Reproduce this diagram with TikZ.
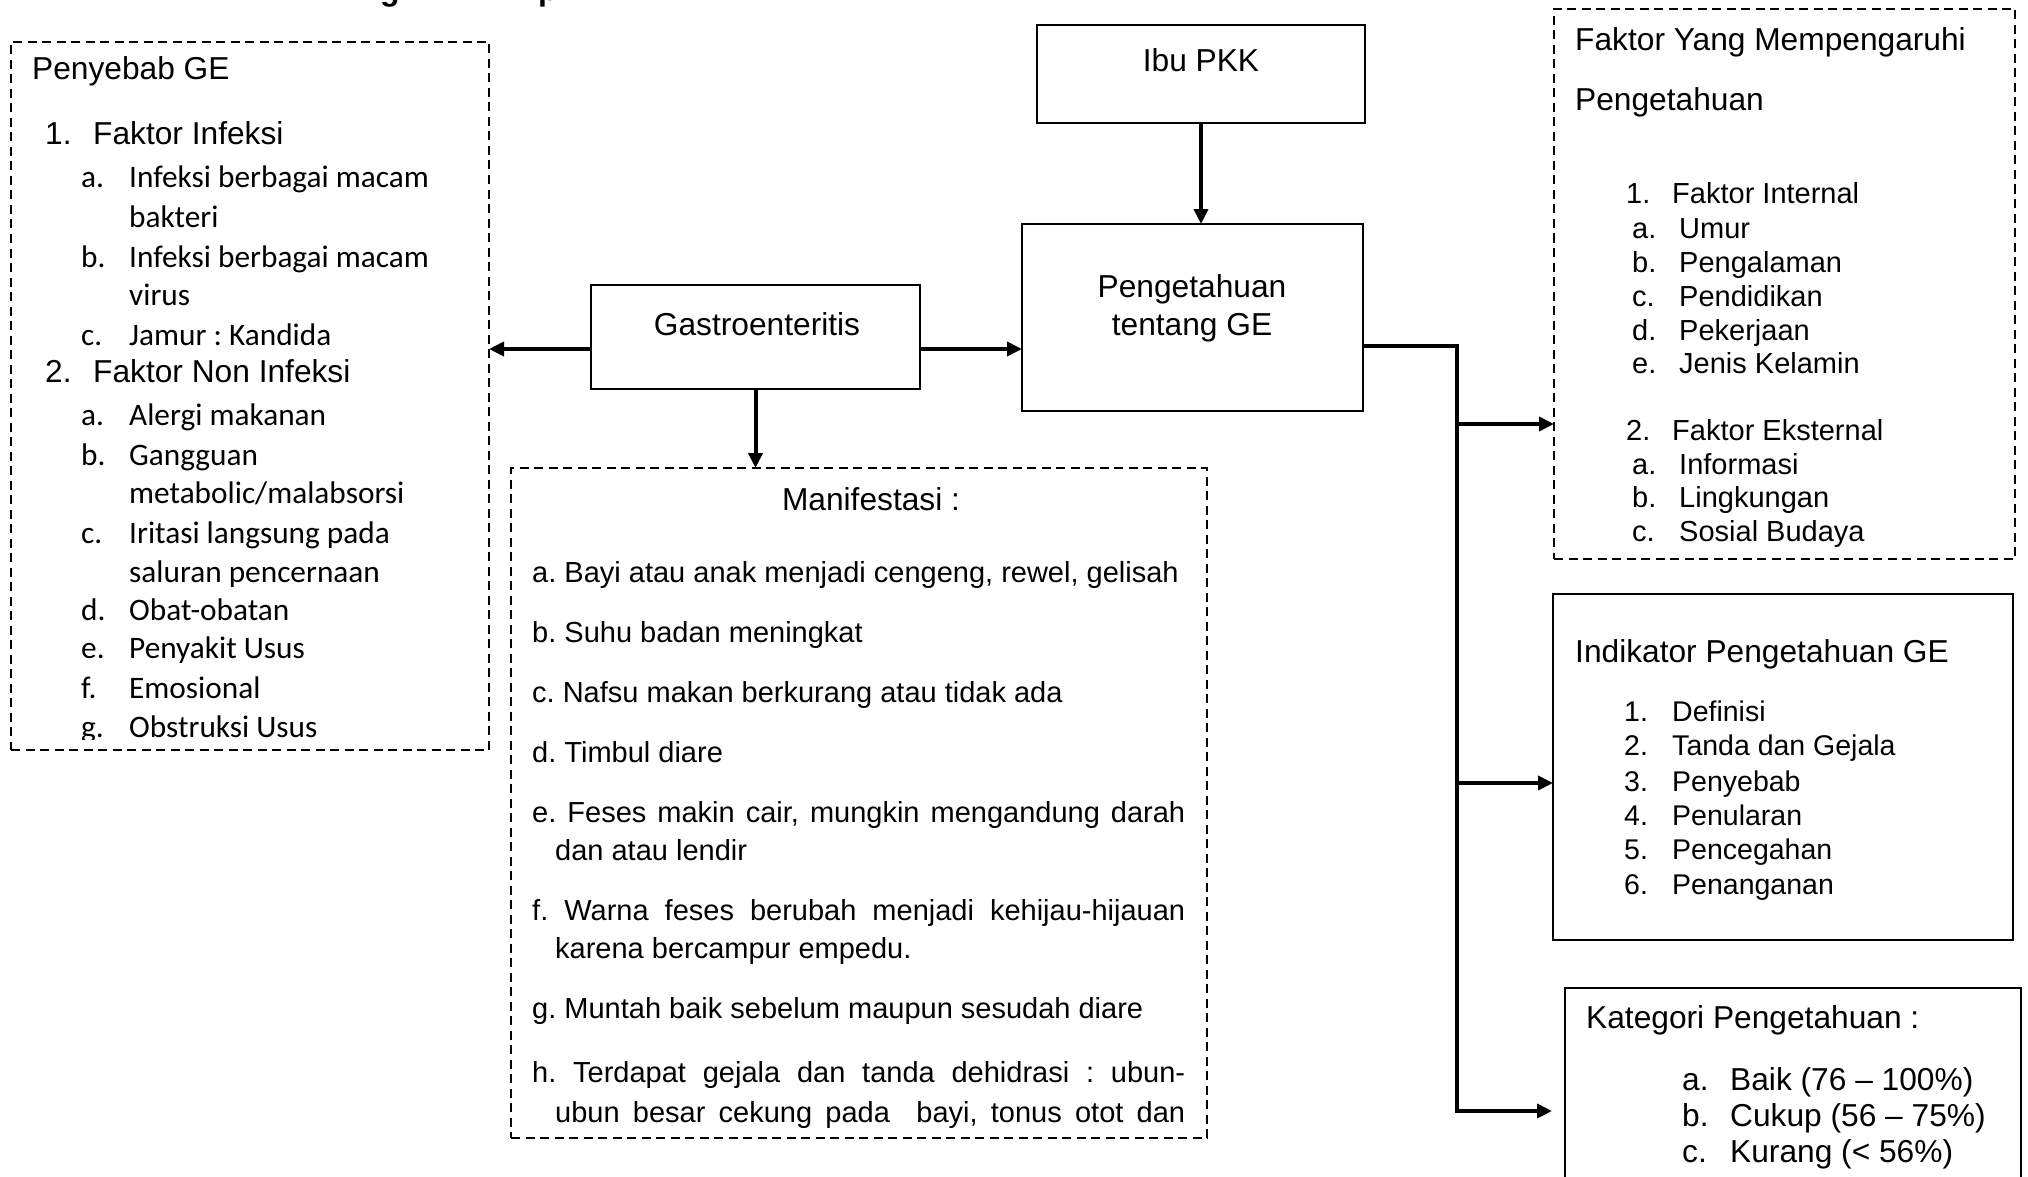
\documentclass[tikz,border=0pt]{standalone}
\usepackage{fontspec}
\setmainfont{Liberation Sans}
\newfontfamily\calfont{Carlito}
\usetikzlibrary{arrows.meta}
\frenchspacing
\newcommand\szA{\fontsize{31.7}{38}\selectfont}
\newcommand\szB{\fontsize{29}{34}\selectfont}
\newcommand\szC{\calfont\fontsize{31.3}{38}\selectfont}
\newcommand\szD{\fontsize{28.5}{34}\selectfont}
\begin{document}
\begin{tikzpicture}[x=1pt,y=-1pt,
  solidbox/.style={draw=black,line width=2.5pt,inner sep=0pt,outer sep=0pt,anchor=north west},
  dashbox/.style={draw=black,line width=2.8pt,dash pattern=on 9pt off 5.5pt,inner sep=0pt,outer sep=0pt,anchor=north west},
  conn/.style={line width=4pt,line join=miter},
  arr/.style={conn,-{Triangle[length=15pt,width=14pt]}},
  tx/.style={inner sep=0pt,anchor=base west},
  tc/.style={inner sep=0pt,anchor=base}]
\useasboundingbox (0,0) rectangle (2028,1177);
\clip (0,0) rectangle (2028,1177);
\fill[white] (0,0) rectangle (2028,1177);

% clipped fragments of a heading at the top edge
\begin{scope}
\clip (0,0) rectangle (2028,9);
\node[tx,font=\bfseries\fontsize{32}{38}\selectfont] (fragg) at (380,1) {g};
\node[tx,font=\bfseries\fontsize{32}{38}\selectfont] (fragp) at (538,1) {p};
\end{scope}

% boxes
\node[dashbox,minimum width=478pt,minimum height=708pt] (pen) at (11,42) {};
\node[solidbox,minimum width=328pt,minimum height=98pt] (ibu) at (1037,25) {};
\node[solidbox,minimum width=329pt,minimum height=104pt] (gas) at (591,285) {};
\node[solidbox,minimum width=341pt,minimum height=187pt] (peng) at (1022,224) {};
\node[dashbox,minimum width=696pt,minimum height=670pt] (man) at (511,468) {};
\node[dashbox,minimum width=461pt,minimum height=550pt] (fak) at (1554,9) {};
\node[solidbox,minimum width=460pt,minimum height=346pt] (ind) at (1553,594) {};
\node[solidbox,minimum width=456pt,minimum height=230pt] (kat) at (1565,988) {};

% box texts
\node[tc,font=\szA] (tibu) at (1201,72) {Ibu PKK};
\node[tc,font=\szA] (tgas) at (757,335) {Gastroenteritis};
\node[tc,font=\szA] (tpeng1) at (1192,297) {Pengetahuan};
\node[tc,font=\szA] (tpeng2) at (1192,335) {tentang GE};

% Penyebab GE
\node[tx,font=\szA] (p0) at (32,80) {Penyebab GE};
\node[tx,font=\szA] (p1n) at (45,145) {1.};
\node[tx,font=\szA] (p1) at (93,145) {Faktor Infeksi};
\node[tx,font=\szC] (p1an) at (81,188) {a.};
\node[tx,font=\szC] (p1a) at (129,188) {Infeksi berbagai macam};
\node[tx,font=\szC] (p1a2) at (129,227) {bakteri};
\node[tx,font=\szC] (p1bn) at (81,267) {b.};
\node[tx,font=\szC] (p1b) at (129,267) {Infeksi berbagai macam};
\node[tx,font=\szC] (p1b2) at (129,305) {virus};
\node[tx,font=\szC] (p1cn) at (81,345) {c.};
\node[tx,font=\szC] (p1c) at (129,345) {Jamur : Kandida};
\node[tx,font=\szA] (p2n) at (45,382) {2.};
\node[tx,font=\szA] (p2) at (93,382) {Faktor Non Infeksi};
\node[tx,font=\szC] (p2an) at (81,425) {a.};
\node[tx,font=\szC] (p2a) at (129,425) {Alergi makanan};
\node[tx,font=\szC] (p2bn) at (81,465) {b.};
\node[tx,font=\szC] (p2b) at (129,465) {Gangguan};
\node[tx,font=\szC] (p2b2) at (129,503) {metabolic/malabsorsi};
\node[tx,font=\szC] (p2cn) at (81,543) {c.};
\node[tx,font=\szC] (p2c) at (129,543) {Iritasi langsung pada};
\node[tx,font=\szC] (p2c2) at (129,582) {saluran pencernaan};
\node[tx,font=\szC] (p2dn) at (81,620) {d.};
\node[tx,font=\szC] (p2d) at (129,620) {Obat-obatan};
\node[tx,font=\szC] (p2en) at (81,658) {e.};
\node[tx,font=\szC] (p2e) at (129,658) {Penyakit Usus};
\node[tx,font=\szC] (p2fn) at (81,698) {f.};
\node[tx,font=\szC] (p2f) at (129,698) {Emosional};
\begin{scope}
\clip (0,0) rectangle (2028,739);
\node[tx,font=\szC] (p2gn) at (81,737) {g.};
\node[tx,font=\szC] (p2g) at (129,737) {Obstruksi Usus};
\end{scope}

% Manifestasi
\node[tc,font=\szA] (m0) at (871,510) {Manifestasi :};
\node[tx,font=\szB] (ma) at (532,582) {a. Bayi atau anak menjadi cengeng, rewel, gelisah};
\node[tx,font=\szB] (mb) at (532,642) {b. Suhu badan meningkat};
\node[tx,font=\szB] (mc) at (532,702) {c. Nafsu makan berkurang atau tidak ada};
\node[tx,font=\szB] (md) at (532,762) {d. Timbul diare};
\node[tx,font=\szB] (me) at (532,822) {\makebox[653pt][s]{e. Feses makin cair, mungkin mengandung darah}};
\node[tx,font=\szB] (me2) at (555,860) {dan atau lendir};
\node[tx,font=\szB] (mf) at (532,920) {\makebox[653pt][s]{f. Warna feses berubah menjadi kehijau-hijauan}};
\node[tx,font=\szB] (mf2) at (555,958) {karena bercampur empedu.};
\node[tx,font=\szB] (mg) at (532,1018) {g. Muntah baik sebelum maupun sesudah diare};
\node[tx,font=\szB] (mh) at (532,1082) {\makebox[653pt][s]{h. Terdapat gejala dan tanda dehidrasi : ubun-}};
\begin{scope}
\clip (0,0) rectangle (2028,1128);
\node[tx,font=\szB] (mh2) at (555,1122) {\makebox[630pt][s]{ubun besar cekung pada \ bayi, tonus otot dan}};
\end{scope}

% Faktor yang mempengaruhi
\node[tx,font=\szA] (f0) at (1575,51) {Faktor Yang Mempengaruhi};
\node[tx,font=\szA] (f0b) at (1575,111) {Pengetahuan};
\node[tx,font=\szB] (f1n) at (1626,204) {1.};
\node[tx,font=\szB] (f1) at (1672,204) {Faktor Internal};
\node[tx,font=\szB] (f1an) at (1632,238) {a.};
\node[tx,font=\szB] (f1a) at (1679,238) {Umur};
\node[tx,font=\szB] (f1bn) at (1632,272) {b.};
\node[tx,font=\szB] (f1b) at (1679,272) {Pengalaman};
\node[tx,font=\szB] (f1cn) at (1632,306) {c.};
\node[tx,font=\szB] (f1c) at (1679,306) {Pendidikan};
\node[tx,font=\szB] (f1dn) at (1632,340) {d.};
\node[tx,font=\szB] (f1d) at (1679,340) {Pekerjaan};
\node[tx,font=\szB] (f1en) at (1632,373) {e.};
\node[tx,font=\szB] (f1e) at (1679,373) {Jenis Kelamin};
\node[tx,font=\szB] (f2n) at (1626,440) {2.};
\node[tx,font=\szB] (f2) at (1672,440) {Faktor Eksternal};
\node[tx,font=\szB] (f2an) at (1632,474) {a.};
\node[tx,font=\szB] (f2a) at (1679,474) {Informasi};
\node[tx,font=\szB] (f2bn) at (1632,507) {b.};
\node[tx,font=\szB] (f2b) at (1679,507) {Lingkungan};
\node[tx,font=\szB] (f2cn) at (1632,541) {c.};
\node[tx,font=\szB] (f2c) at (1679,541) {Sosial Budaya};

% Indikator
\node[tx,font=\szA] (i0) at (1575,662) {Indikator Pengetahuan GE};
\node[tx,font=\szD] (i1n) at (1624,721) {1.};
\node[tx,font=\szD] (i1) at (1672,721) {Definisi};
\node[tx,font=\szD] (i2n) at (1624,755) {2.};
\node[tx,font=\szD] (i2) at (1672,755) {Tanda dan Gejala};
\node[tx,font=\szD] (i3n) at (1624,791) {3.};
\node[tx,font=\szD] (i3) at (1672,791) {Penyebab};
\node[tx,font=\szD] (i4n) at (1624,825) {4.};
\node[tx,font=\szD] (i4) at (1672,825) {Penularan};
\node[tx,font=\szD] (i5n) at (1624,859) {5.};
\node[tx,font=\szD] (i5) at (1672,859) {Pencegahan};
\node[tx,font=\szD] (i6n) at (1624,894) {6.};
\node[tx,font=\szD] (i6) at (1672,894) {Penanganan};

% Kategori
\node[tx,font=\szA] (k0) at (1586,1028) {Kategori Pengetahuan :};
\node[tx,font=\szA] (kan) at (1682,1090) {a.};
\node[tx,font=\szA] (ka) at (1730,1090) {Baik (76 -- 100\%)};
\node[tx,font=\szA] (kbn) at (1682,1126) {b.};
\node[tx,font=\szA] (kb) at (1730,1126) {Cukup (56 -- 75\%)};
\node[tx,font=\szA] (kcn) at (1682,1162) {c.};
\node[tx,font=\szA] (kc) at (1730,1162) {Kurang (< 56\%)};

% connectors
\coordinate (gy) at (0,349);
\coordinate (tt) at (1457,346);
\coordinate (tb) at (1457,1111);
\coordinate (b1) at (1457,424);
\coordinate (b2) at (1457,783);
\coordinate (kend) at (1552,1111);
\draw[arr] (gas.west |- gy) -- (pen.east |- gy);
\draw[arr] (gas.east |- gy) -- (peng.west |- gy);
\draw[arr] (ibu.south) -- (ibu.south |- peng.north);
\draw[arr] (gas.south) -- (gas.south |- man.north);
\draw[arr] (peng.east |- tt) -- (tt) -- (tb) -- (kend);
\draw[arr] (b1) -- (fak.west |- b1);
\draw[arr] (b2) -- (ind.west |- b2);
\end{tikzpicture}
\end{document}
